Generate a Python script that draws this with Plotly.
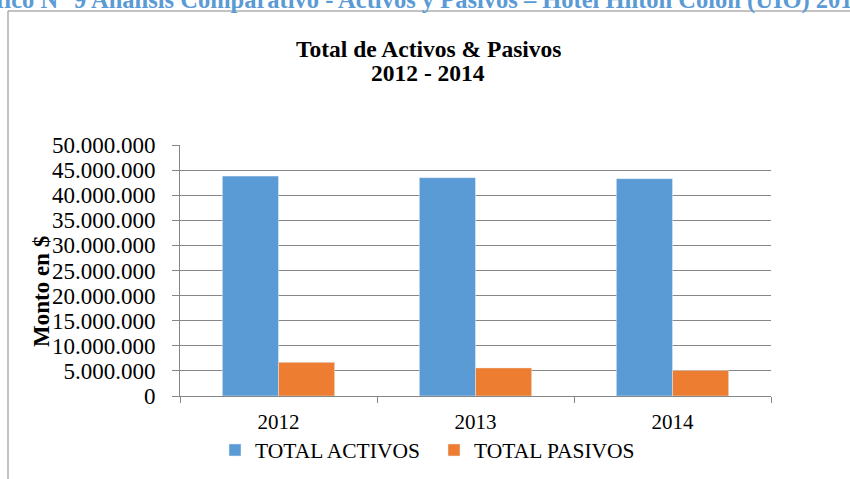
import plotly.graph_objects as go

years = ["2012", "2013", "2014"]
activos = [43800000, 43500000, 43300000]
pasivos = [6700000, 5600000, 5100000]
yticks = [0, 5000000, 10000000, 15000000, 20000000, 25000000, 30000000, 35000000, 40000000, 45000000, 50000000]

W, H = 850, 479
L, R, T, B = 180, 79, 145, 83
pw, ph = W - L - R, H - T - B

def px(x):
    return (x - L) / pw

def py(y):
    return (H - B - y) / ph

font = "Liberation Serif"

fig = go.Figure()
fig.add_trace(go.Bar(x=years, y=activos, name="TOTAL ACTIVOS", marker_color="#5B9BD5"))
fig.add_trace(go.Bar(x=years, y=pasivos, name="TOTAL PASIVOS", marker_color="#ED7D31"))

fig.update_layout(
    width=W, height=H,
    margin=dict(l=L, r=R, t=T, b=B, autoexpand=False),
    paper_bgcolor="white", plot_bgcolor="white",
    separators=",.",
    barmode="group", bargap=0.43, bargroupgap=0,
    font=dict(family=font, color="black", size=21),
    showlegend=True,
    legend=dict(orientation="h", x=px(215), xanchor="left", y=py(450), yanchor="middle",
                font=dict(size=21.5, family=font, color="black"), entrywidth=174,
                traceorder="normal"),
    xaxis=dict(showline=True, linecolor="#868686", ticks="outside", tickson="boundaries",
               ticklen=6, tickcolor="#868686", ticklabelstandoff=7,
               tickfont=dict(size=21, family=font, color="black"), showgrid=False),
    yaxis=dict(range=[0, 50000000], tickvals=yticks, tickformat=",d",
               showline=True, linecolor="#868686", ticks="outside", ticklen=7, tickcolor="#868686",
               ticklabelstandoff=12,
               gridcolor="#868686", gridwidth=1, tickfont=dict(size=23, family=font, color="black"),
               zeroline=False),
)

def ann(text, x, y, size, color="black", angle=0):
    fig.add_annotation(text=text, xref="paper", yref="paper", x=px(x), y=py(y),
                       xanchor="center", yanchor="middle", textangle=angle, showarrow=False,
                       font=dict(size=size, family=font, color=color))

ann("<b>Total de Activos & Pasivos</b>", 428, 49, 23.5)
ann("<b>2012 - 2014</b>", 428, 73, 23.5)
ann("<b>Monto en $</b>", 41, 292, 23, angle=-90)
ann("<b>Gráfico N° 9 Análisis Comparativo - Activos y Pasivos – Hotel Hilton Colón (UIO) 2012-2014</b>",
    438, 0, 24.5, color="#5B9BD5")

fig.add_shape(type="rect", xref="paper", yref="paper",
              x0=px(8), x1=px(870), y0=py(500), y1=py(11),
              line=dict(color="#878787", width=1), fillcolor="rgba(0,0,0,0)", layer="below")

fig.write_html("out.html", config={"displayModeBar": False},
               post_script="document.body.style.margin='0';document.body.style.overflow='hidden';")
